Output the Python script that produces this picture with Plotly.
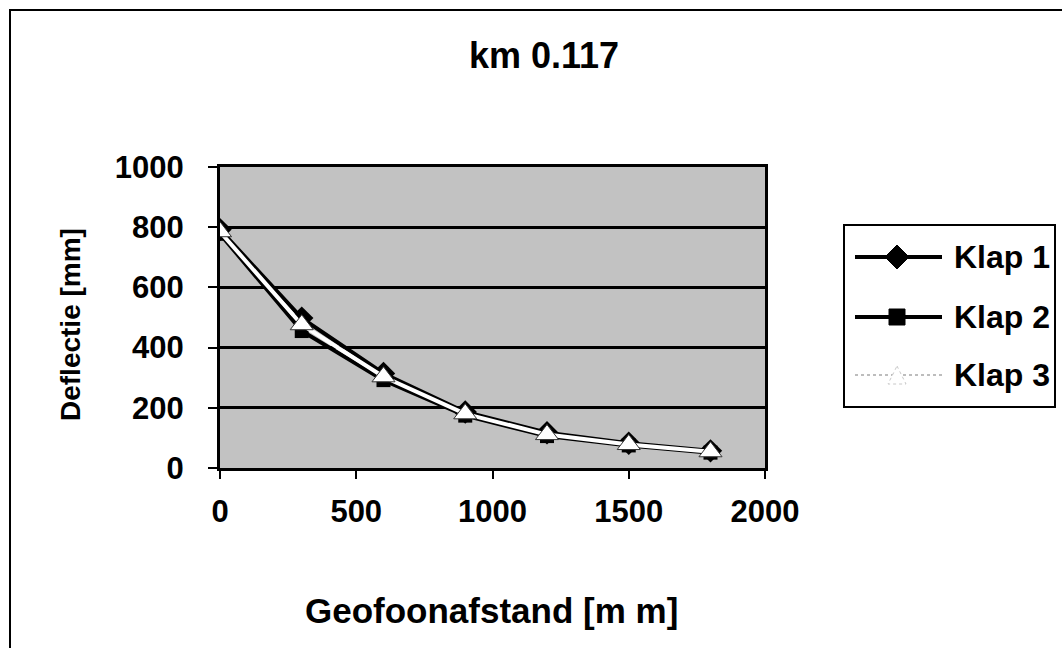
import plotly.graph_objects as go

x_mm = [0, 300, 600, 900, 1200, 1500, 1800]
klap1 = [792, 498, 314, 186, 117, 82, 57]
klap2 = [778, 455, 292, 174, 106, 75, 51]
klap3 = [785, 476, 303, 180, 111, 78, 54]

series_names = ["Klap 1", "Klap 2", "Klap 3"]
x_ticks = [0, 500, 1000, 1500, 2000]
y_ticks = [0, 200, 400, 600, 800, 1000]

FONT = "Liberation Sans, Arial, sans-serif"

fig = go.Figure()
fig.add_trace(go.Scatter(x=x_mm, y=klap1, name=series_names[0], mode="lines+markers",
                         line=dict(color="black", width=4),
                         marker=dict(symbol="diamond", size=18, color="black"),
                         showlegend=False))
fig.add_trace(go.Scatter(x=x_mm, y=klap2, name=series_names[1], mode="lines+markers",
                         line=dict(color="black", width=4),
                         marker=dict(symbol="square", size=14, color="black"),
                         showlegend=False))
fig.add_trace(go.Scatter(x=x_mm, y=klap3, name=series_names[2], mode="lines+markers",
                         line=dict(color="white", width=4),
                         marker=dict(symbol="triangle-up", size=20, color="white",
                                     line=dict(color="#333333", width=1)),
                         showlegend=False))

L, R, T, B = 220, 765, 167, 468
W, H = 1062, 648
pw, ph = R - L, B - T

def px(xp):
    return (xp - L) / pw

def py(yp):
    return (B - yp) / ph

fig.update_layout(
    width=W, height=H,
    margin=dict(l=L, r=W - R, t=T, b=H - B),
    paper_bgcolor="white",
    plot_bgcolor="#c2c2c2",
    font=dict(family=FONT, color="black", size=31),
    title=dict(text="<b>km 0.117</b>", x=544 / W, xanchor="center",
               y=1 - 55 / H, yanchor="middle", font=dict(size=36)),
    showlegend=False,
    xaxis=dict(range=[0, 2000], tickvals=x_ticks,
               ticktext=[f"<b>{v}</b>" for v in x_ticks],
               showgrid=False, zeroline=False, showline=True, linecolor="black",
               linewidth=3, mirror=True, ticks="outside", ticklen=8, tickwidth=2,
               tickcolor="black", tickfont=dict(size=31), ticklabelstandoff=6),
    yaxis=dict(range=[0, 1000], tickvals=y_ticks,
               ticktext=[f"<b>{v}</b>" for v in y_ticks],
               showgrid=True, gridcolor="black", gridwidth=3, zeroline=False,
               showline=True, linecolor="black", linewidth=3, mirror=True,
               ticks="outside", ticklen=9, tickwidth=2, tickcolor="black",
               tickfont=dict(size=31), ticklabelstandoff=18),
)

# axis titles
fig.add_annotation(text="<b>Geofoonafstand [m m]</b>", xref="paper", yref="paper",
                   x=px(491), y=py(610), xanchor="center", yanchor="middle",
                   showarrow=False, font=dict(size=35))
fig.add_annotation(text="<b>Deflectie [mm]</b>", xref="paper", yref="paper",
                   x=px(70), y=py(325), xanchor="center", yanchor="middle",
                   textangle=-90, showarrow=False, font=dict(size=28))

# outer chart border
fig.add_shape(type="rect", xref="paper", yref="paper",
              x0=px(10), x1=px(1075), y0=py(660), y1=py(10),
              line=dict(color="black", width=2), fillcolor="rgba(0,0,0,0)",
              layer="below")

# custom legend
fig.add_shape(type="rect", xref="paper", yref="paper",
              x0=px(844), x1=px(1055), y0=py(407), y1=py(225),
              line=dict(color="black", width=2), fillcolor="white")
rows = [257, 317, 375]
lx0, lx1, mx, tx = 855, 942, 897, 952
for i, (name, yy) in enumerate(zip(series_names, rows)):
    if i < 2:
        fig.add_shape(type="line", xref="paper", yref="paper",
                      x0=px(lx0), x1=px(lx1), y0=py(yy), y1=py(yy),
                      line=dict(color="black", width=4))
    else:
        fig.add_shape(type="line", xref="paper", yref="paper",
                      x0=px(lx0), x1=px(lx1), y0=py(yy), y1=py(yy),
                      line=dict(color="#bdbdbd", width=2, dash="dot"))
    if i == 0:
        s = 12
        path = (f"M {px(mx)} {py(yy - s)} L {px(mx + s)} {py(yy)} "
                f"L {px(mx)} {py(yy + s)} L {px(mx - s)} {py(yy)} Z")
        fig.add_shape(type="path", xref="paper", yref="paper", path=path,
                      fillcolor="black", line=dict(color="black", width=1))
    elif i == 1:
        s = 8
        fig.add_shape(type="rect", xref="paper", yref="paper",
                      x0=px(mx - s), x1=px(mx + s), y0=py(yy + s), y1=py(yy - s),
                      fillcolor="black", line=dict(color="black", width=1))
    else:
        s = 9
        path = (f"M {px(mx)} {py(yy - s)} L {px(mx + s)} {py(yy + s)} "
                f"L {px(mx - s)} {py(yy + s)} Z")
        fig.add_shape(type="path", xref="paper", yref="paper", path=path,
                      fillcolor="white", line=dict(color="#c8c8c8", width=1, dash="dot"))
    fig.add_annotation(text=f"<b>{name}</b>", xref="paper", yref="paper",
                       x=px(tx), y=py(yy), xanchor="left", yanchor="middle",
                       showarrow=False, font=dict(size=32))

fig.write_html("out.html")
